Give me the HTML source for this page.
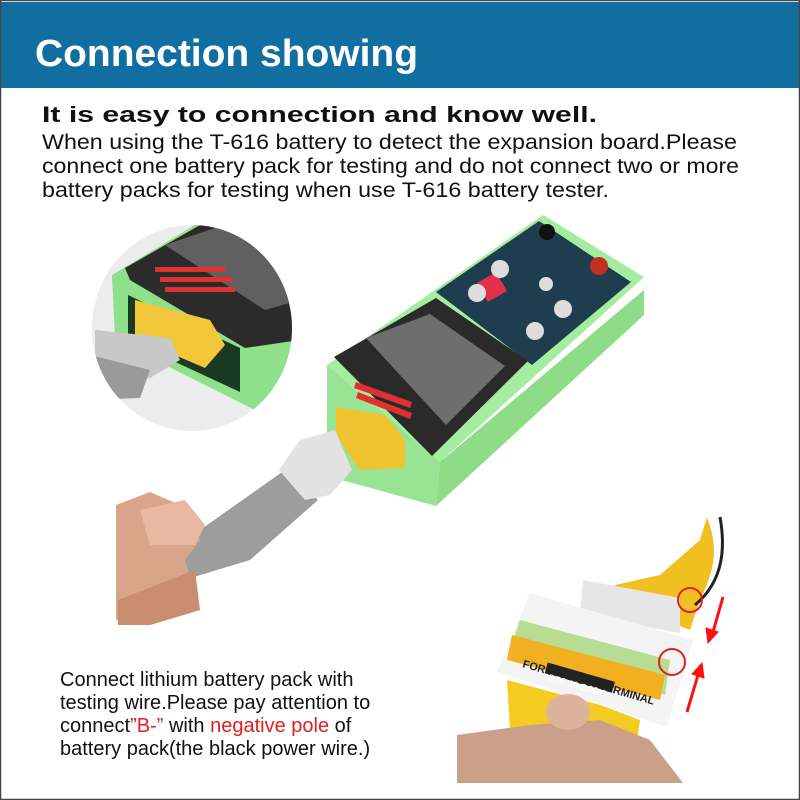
<!DOCTYPE html>
<html><head><style>
html,body{margin:0;padding:0;background:#fff}
svg{display:block}
text{font-family:"Liberation Sans",Arial,sans-serif}
</style></head><body>
<svg width="800" height="800" viewBox="0 0 800 800" xmlns="http://www.w3.org/2000/svg">
<rect x="0" y="0" width="800" height="800" fill="#fff"/>
<rect x="1" y="2" width="798" height="86" fill="#116ea0"/>
<text x="35" y="66" font-size="38" font-weight="bold" fill="#fff" textLength="383" lengthAdjust="spacingAndGlyphs">Connection showing</text>
<text x="42" y="122" font-size="22" font-weight="bold" fill="#111" textLength="555" lengthAdjust="spacingAndGlyphs">It is easy to connection and know well.</text>
<text x="42" y="149" font-size="21" fill="#111" textLength="695" lengthAdjust="spacingAndGlyphs">When using the T-616 battery to detect the expansion board.Please</text>
<text x="42" y="173" font-size="21" fill="#111" textLength="697" lengthAdjust="spacingAndGlyphs">connect one battery pack for testing and do not connect two or more</text>
<text x="42" y="197" font-size="21" fill="#111" textLength="567" lengthAdjust="spacingAndGlyphs">battery packs for testing when use T-616 battery tester.</text>

<!-- circle inset -->
<defs><clipPath id="c"><ellipse cx="192" cy="328" rx="100" ry="103"/></clipPath></defs>
<ellipse cx="192" cy="328" rx="100" ry="103" fill="#ececec"/>
<g clip-path="url(#c)">
<polygon points="112,275 200,222 300,222 300,400 255,410 115,340" fill="#8fe08a"/>
<polygon points="125,268 200,225 300,225 300,340 245,348 130,280" fill="#2b2b2b"/>
<polygon points="165,245 215,228 300,228 300,300 265,310" fill="#606060"/>
<polygon points="128,295 240,348 240,392 128,340" fill="#1b3a24"/>
<polygon points="135,300 210,320 225,345 205,368 135,338" fill="#f2c73a"/>
<polygon points="95,330 170,338 180,360 150,378 95,380" fill="#c8c8c8"/>
<polygon points="90,355 150,370 140,398 90,400" fill="#9a9a9a"/>
<g fill="#e03030"><rect x="155" y="267" width="70" height="5"/><rect x="160" y="277" width="72" height="5"/><rect x="165" y="287" width="70" height="5"/></g>
</g>

<!-- device -->
<polygon points="440,462 644,290 644,315 436,506" fill="#8edc88"/>
<polygon points="327,365 440,462 436,506 327,476" fill="#98e494"/>
<polygon points="327,365 543,215 644,277 440,462" fill="#a4ec9f"/>
<polygon points="436,292 539,221 631,282 532,365" fill="#1e3d4f"/>
<polygon points="334,357 436,298 528,361 432,456" fill="#2a2a2a"/>
<polygon points="366,338 430,314 505,366 446,425" fill="#6e6e6e"/>
<g fill="#e03030"><polygon points="356,382 412,402 410,408 354,388"/><polygon points="358,392 412,413 410,419 356,398"/></g>
<rect x="481" y="276" width="22" height="22" fill="#e0304a" transform="rotate(-30 492 287)"/>
<g fill="#ddd"><circle cx="500" cy="269" r="9"/><circle cx="477" cy="293" r="9"/><circle cx="563" cy="309" r="9"/><circle cx="535" cy="331" r="9"/><circle cx="546" cy="284" r="7"/></g>
<circle cx="547" cy="232" r="8" fill="#111"/><circle cx="599" cy="266" r="9" fill="#c0301c"/>
<polygon points="336,407 385,415 405,440 405,468 360,470 336,435" fill="#efc430"/>

<!-- ribbon cable & hand -->
<polygon points="118,560 200,530 285,470 318,500 250,560 118,600" fill="#9d9d9d"/>
<polygon points="279,470 300,440 335,430 352,470 330,495 305,500" fill="#e2e2e2"/>
<polygon points="116,505 150,492 180,505 200,540 185,560 200,610 150,625 116,620" fill="#d9a58a"/>
<polygon points="140,510 185,500 205,525 195,545 150,545" fill="#e8b8a0"/>
<polygon points="118,600 195,570 200,610 150,625 118,625" fill="#c98d72"/>

<!-- board -->
<path d="M707,517 C715,540 720,560 700,600 L690,630 L640,610 L615,585 L660,575 L700,540 Z" fill="#f0c020"/>
<path d="M720,517 C725,545 725,580 695,605" stroke="#222" stroke-width="3" fill="none"/>
<polygon points="583,580 680,598 680,633 580,615" fill="#e6e6e6"/>
<polygon points="530,593 693,640 667,727 497,672" fill="#f4f4f4"/>
<polygon points="520,620 670,660 665,695 510,650" fill="#8fcd50" opacity="0.6"/>
<polygon points="512,635 665,675 660,700 507,660" fill="#f0b020"/>
<text x="0" y="0" font-size="11" font-weight="bold" fill="#222" transform="translate(522,667) rotate(16)">FOR BATTERY TERMINAL</text>
<rect x="545" y="672" width="70" height="11" fill="#222" transform="rotate(16 580 677)"/>
<text x="0" y="0" font-size="9" fill="#fff" transform="translate(548,680) rotate(16)">BTC 16-2.00mm</text>
<polygon points="507,680 600,705 640,720 635,753 540,745 510,730" fill="#f2cc20"/>
<polygon points="457,735 530,725 600,720 650,740 683,783 457,783" fill="#caa088"/>
<ellipse cx="568" cy="712" rx="22" ry="18" fill="#dcb39a"/>
<circle cx="690" cy="600" r="12" fill="none" stroke="#e02020" stroke-width="2"/>
<circle cx="672" cy="662" r="13" fill="none" stroke="#e02020" stroke-width="2"/>
<g stroke="#ff1010" stroke-width="3" fill="#ff1010">
<line x1="723" y1="597" x2="713" y2="632"/><polygon points="708,643 706,628 718,632" stroke-width="1"/>
<line x1="687" y1="712" x2="698" y2="675"/><polygon points="702,663 704,678 692,674" stroke-width="1"/>
</g>

<text x="60" y="686" font-size="20" fill="#111">Connect lithium battery pack with</text>
<text x="60" y="709" font-size="20" fill="#111">testing wire.Please pay attention to</text>
<text x="60" y="732" font-size="20" fill="#111">connect<tspan fill="#e02020">”B-”</tspan> with <tspan fill="#e02020">negative pole</tspan> of</text>
<text x="60" y="755" font-size="20" fill="#111">battery pack(the black power wire.)</text>
<rect x="0.5" y="0.5" width="799" height="799" fill="none" stroke="#444" stroke-width="1.5"/>
</svg>
</body></html>
